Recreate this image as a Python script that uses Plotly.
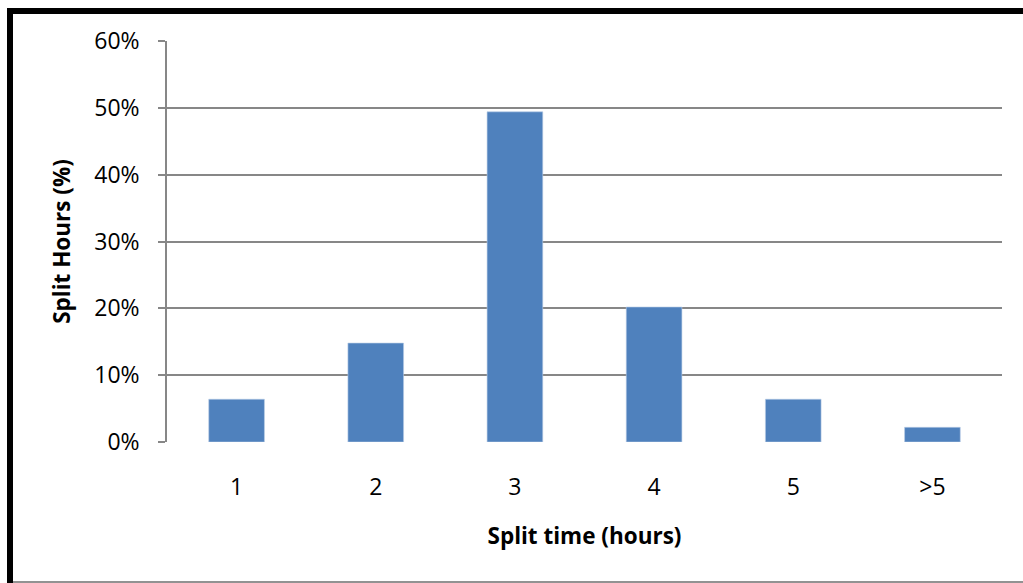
import plotly.graph_objects as go

# Share of split hours by split time
categories = ["1", "2", "3", "4", "5", ">5"]
share_pct = [6.4, 14.8, 49.4, 20.2, 6.4, 2.2]
y_ticks = [0, 10, 20, 30, 40, 50, 60]
y_tick_labels = ["0%", "10%", "20%", "30%", "40%", "50%", "60%"]

FONT = "'Open Sans', sans-serif"
GRID = "#878787"

fig = go.Figure(
    go.Bar(
        x=categories,
        y=share_pct,
        marker=dict(color="#4F81BD", line=dict(color="#B9CDE5", width=0.6)),
        hoverinfo="x+y",
    )
)

W, H = 1023, 583
L, R, T, B = 167, 21, 41, 141
pw, ph = W - L - R, H - T - B


def px_x(px):
    return (px - L) / pw


def px_y(py):
    return (H - B - py) / ph


fig.update_layout(
    width=W,
    height=H,
    margin=dict(l=L, r=R, t=T, b=B),
    paper_bgcolor="white",
    plot_bgcolor="white",
    bargap=0.6,
    showlegend=False,
    font=dict(family=FONT, size=23, color="#000000"),
    xaxis=dict(
        type="category",
        showgrid=False,
        showline=False,
        ticks="",
        ticklabelstandoff=29,
        tickfont=dict(size=23),
        title=dict(
            text="<b>Split time (hours)</b>",
            font=dict(size=22.5),
            standoff=27,
        ),
    ),
    yaxis=dict(
        range=[0, 60],
        tickvals=y_ticks,
        ticktext=y_tick_labels,
        showgrid=True,
        gridcolor=GRID,
        gridwidth=1.5,
        showline=True,
        linecolor=GRID,
        linewidth=1.5,
        ticks="outside",
        ticklen=7,
        tickcolor=GRID,
        tickwidth=1.5,
        ticklabelstandoff=14,
        zeroline=False,
        tickfont=dict(size=23),
        title=dict(
            text="<b>Split Hours (%)</b>",
            font=dict(size=22.5),
            standoff=17,
        ),
    ),
    shapes=[
        # black frame: left and top edges
        dict(type="line", xref="paper", yref="paper",
             x0=px_x(10), x1=px_x(10), y0=px_y(8), y1=px_y(583),
             line=dict(color="black", width=6)),
        dict(type="line", xref="paper", yref="paper",
             x0=px_x(7), x1=px_x(1023), y0=px_y(11), y1=px_y(11),
             line=dict(color="black", width=6)),
        # thin bottom edge
        dict(type="line", xref="paper", yref="paper",
             x0=px_x(13), x1=px_x(1023), y0=px_y(582), y1=px_y(582),
             line=dict(color="#6E6E6E", width=1.5)),
    ],
)

fig.write_html("out.html")
